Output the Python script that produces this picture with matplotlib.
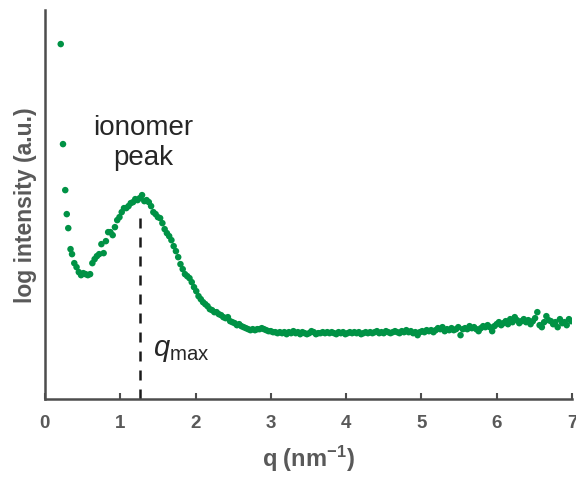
import matplotlib
matplotlib.use("Agg")
import matplotlib.pyplot as plt

# scattering vector q (nm^-1) and log intensity (arbitrary units)
q = [
    0.21, 0.24, 0.27, 0.29, 0.31, 0.34, 0.36, 0.39, 0.42, 0.45,
    0.48, 0.51, 0.54, 0.57, 0.60, 0.63, 0.66, 0.69, 0.72, 0.75,
    0.78, 0.81, 0.84, 0.87, 0.90, 0.93, 0.96, 0.99, 1.02, 1.05,
    1.08, 1.11, 1.14, 1.17, 1.20, 1.23, 1.26, 1.29, 1.32, 1.35,
    1.38, 1.41, 1.44, 1.47, 1.50, 1.53, 1.56, 1.59, 1.62, 1.65,
    1.68, 1.71, 1.74, 1.77, 1.80, 1.83, 1.86, 1.89, 1.92, 1.95,
    1.98, 2.01, 2.04, 2.07, 2.10, 2.13, 2.16, 2.19, 2.22, 2.25,
    2.28, 2.31, 2.34, 2.37, 2.40, 2.43, 2.46, 2.49, 2.52, 2.55,
    2.58, 2.61, 2.64, 2.67, 2.70, 2.73, 2.76, 2.79, 2.82, 2.85,
    2.88, 2.91, 2.94, 2.97, 3.00, 3.03, 3.06, 3.09, 3.12, 3.15,
    3.18, 3.21, 3.24, 3.27, 3.30, 3.33, 3.36, 3.39, 3.42, 3.45,
    3.48, 3.51, 3.54, 3.57, 3.60, 3.63, 3.66, 3.69, 3.72, 3.75,
    3.78, 3.81, 3.84, 3.87, 3.90, 3.93, 3.96, 3.99, 4.02, 4.05,
    4.08, 4.11, 4.14, 4.17, 4.20, 4.23, 4.26, 4.29, 4.32, 4.35,
    4.38, 4.41, 4.44, 4.47, 4.50, 4.53, 4.56, 4.59, 4.62, 4.65,
    4.68, 4.71, 4.74, 4.77, 4.80, 4.83, 4.86, 4.89, 4.92, 4.95,
    4.98, 5.01, 5.04, 5.07, 5.10, 5.13, 5.16, 5.19, 5.22, 5.25,
    5.28, 5.31, 5.34, 5.37, 5.40, 5.43, 5.46, 5.49, 5.52, 5.55,
    5.58, 5.61, 5.64, 5.67, 5.70, 5.73, 5.76, 5.79, 5.82, 5.85,
    5.88, 5.91, 5.94, 5.97, 6.00, 6.03, 6.06, 6.09, 6.12, 6.15,
    6.18, 6.21, 6.24, 6.27, 6.30, 6.33, 6.36, 6.39, 6.42, 6.45,
    6.48, 6.51, 6.54, 6.57, 6.60, 6.63, 6.66, 6.69, 6.72, 6.75,
    6.78, 6.81, 6.84, 6.87, 6.90, 6.93, 6.96, 6.99,
]
log_intensity = [
    3.55, 2.55, 2.09, 1.85, 1.71, 1.50, 1.45, 1.36, 1.32, 1.27,
    1.24, 1.26, 1.25, 1.24, 1.25, 1.36, 1.40, 1.43, 1.45, 1.55,
    1.46, 1.58, 1.67, 1.67, 1.64, 1.72, 1.79, 1.82, 1.87, 1.91,
    1.91, 1.93, 1.96, 1.97, 2.00, 1.99, 2.01, 2.04, 1.98, 1.99,
    1.97, 1.93, 1.87, 1.85, 1.82, 1.81, 1.76, 1.70, 1.66, 1.63,
    1.59, 1.53, 1.48, 1.42, 1.35, 1.30, 1.25, 1.23, 1.21, 1.17,
    1.12, 1.08, 1.03, 1.00, 0.97, 0.95, 0.93, 0.90, 0.89, 0.87,
    0.87, 0.85, 0.84, 0.82, 0.81, 0.82, 0.78, 0.77, 0.76, 0.74,
    0.75, 0.73, 0.72, 0.71, 0.70, 0.69, 0.70, 0.69, 0.70, 0.70,
    0.71, 0.70, 0.69, 0.68, 0.68, 0.67, 0.67, 0.66, 0.67, 0.66,
    0.67, 0.65, 0.67, 0.66, 0.68, 0.66, 0.67, 0.65, 0.67, 0.66,
    0.65, 0.66, 0.68, 0.67, 0.65, 0.66, 0.66, 0.67, 0.66, 0.67,
    0.66, 0.67, 0.66, 0.65, 0.67, 0.66, 0.67, 0.65, 0.66, 0.67,
    0.66, 0.67, 0.66, 0.67, 0.65, 0.66, 0.67, 0.66, 0.67, 0.66,
    0.67, 0.68, 0.66, 0.67, 0.66, 0.68, 0.67, 0.66, 0.67, 0.68,
    0.67, 0.66, 0.68, 0.67, 0.69, 0.67, 0.68, 0.66, 0.67, 0.64,
    0.67, 0.68, 0.67, 0.69, 0.68, 0.69, 0.67, 0.69, 0.71, 0.70,
    0.72, 0.68, 0.70, 0.69, 0.71, 0.69, 0.70, 0.72, 0.64, 0.70,
    0.71, 0.70, 0.73, 0.71, 0.72, 0.70, 0.68, 0.71, 0.73, 0.72,
    0.74, 0.72, 0.68, 0.73, 0.75, 0.77, 0.74, 0.76, 0.78, 0.75,
    0.80, 0.77, 0.82, 0.79, 0.76, 0.78, 0.80, 0.77, 0.79, 0.75,
    0.78, 0.81, 0.87, 0.74, 0.72, 0.77, 0.83, 0.79, 0.78, 0.75,
    0.77, 0.72, 0.80, 0.76, 0.77, 0.74, 0.80, 0.78,
]
x_ticks = [0, 1, 2, 3, 4, 5, 6, 7]
q_max = 1.26
q_max_height = 1.87

plt.rcParams["font.family"] = ["Liberation Sans", "DejaVu Sans"]
plt.rcParams["mathtext.fontset"] = "custom"
plt.rcParams["mathtext.rm"] = "Liberation Sans"
plt.rcParams["mathtext.it"] = "Liberation Sans:italic"
plt.rcParams["mathtext.bf"] = "Liberation Sans:bold"

fig = plt.figure(figsize=(5.76, 4.81), dpi=100)
ax = fig.add_axes([0.078, 0.168, 0.915, 0.809])

ax.scatter(q, log_intensity, s=22, color="#009245", edgecolors="none", zorder=3)
ax.plot([q_max, q_max], [0, q_max_height], color="#1a1a1a", lw=1.8,
        linestyle=(0, (4, 3.6)), zorder=2)

ax.text(1.30, 2.35, "ionomer\npeak", ha="center", va="baseline",
        fontsize=20, color="#262626", linespacing=1.2)
ax.text(1.43, 0.44, r"$q_{\mathrm{max}}$", fontsize=21, color="#262626")

ax.set_xlim(0, 7)
ax.set_ylim(0, 3.89)
ax.set_xticks(x_ticks)
ax.set_yticks([])

grey = "#595959"
for side in ["top", "right"]:
    ax.spines[side].set_visible(False)
for side in ["left", "bottom"]:
    ax.spines[side].set_color("#4d4d4d")
    ax.spines[side].set_linewidth(1.8)
ax.tick_params(axis="x", direction="in", length=4, width=1.5, color="#4d4d4d",
               labelsize=13.5, labelcolor=grey, pad=11)
for lbl in ax.get_xticklabels():
    lbl.set_fontweight("bold")

ax.set_xlabel("q (nm$^{\\mathbf{-1}}$)", fontsize=17, fontweight="bold",
              color=grey, labelpad=8)
ax.set_ylabel("log intensity (a.u.)", fontsize=16.5, fontweight="bold",
              color=grey, labelpad=6)

fig.savefig("out.png", dpi=100)
